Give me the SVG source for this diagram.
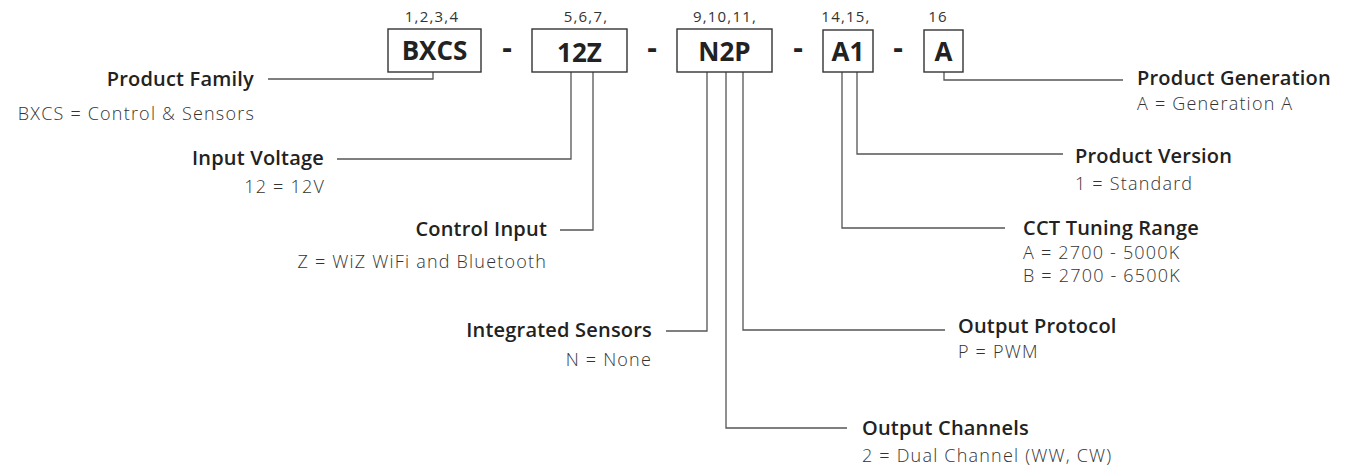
<svg xmlns="http://www.w3.org/2000/svg" width="1347" height="467" viewBox="0 0 1347 467">
<style>
.box{fill:#fff;stroke:#333;stroke-width:1.4}
.code{font-family:"Open Sans","Liberation Sans",sans-serif;font-weight:700;font-size:26px;fill:#222;text-anchor:middle}
.pos{font-family:"Open Sans","Liberation Sans",sans-serif;font-size:15px;letter-spacing:1.2px;fill:#333;text-anchor:middle}
.dash{font-family:"Open Sans","Liberation Sans",sans-serif;font-weight:700;font-size:30px;fill:#222;text-anchor:middle}
.lbl{font-family:"Open Sans","Liberation Sans",sans-serif;font-weight:600;font-size:20px;letter-spacing:0.2px;fill:#222}
.desc{font-family:"Open Sans","Liberation Sans",sans-serif;font-weight:300;font-size:18px;letter-spacing:1.2px;fill:#333}
.e{text-anchor:end}
.ln{fill:none;stroke:#555;stroke-width:1.3}
</style>
<rect width="1347" height="467" fill="#fff"/>
<g id="connectors">
<path class="ln" d="M268,79 H433 V72"/>
<path class="ln" d="M337,159 H571 V72"/>
<path class="ln" d="M560,230 H593 V72"/>
<path class="ln" d="M666,331 H707 V72"/>
<path class="ln" d="M847,428 H726 V72"/>
<path class="ln" d="M945,330 H743 V72"/>
<path class="ln" d="M1005,228 H842 V72"/>
<path class="ln" d="M1063,154 H857 V72"/>
<path class="ln" d="M1123,80 H944 V72"/>
</g>
<g id="seg-bxcs">
<text class="pos" x="432" y="22">1,2,3,4</text>
<rect class="box" x="388" y="29" width="93" height="43"/>
<text class="code" x="434.5" y="60">BXCS</text>
</g>
<text class="dash" x="507" y="58">-</text>
<g id="seg-12z">
<text class="pos" x="586" y="22">5,6,7,</text>
<rect class="box" x="532" y="29" width="95" height="43"/>
<text class="code" x="579.5" y="62">12Z</text>
</g>
<text class="dash" x="652" y="58">-</text>
<g id="seg-n2p">
<text class="pos" x="725" y="22">9,10,11,</text>
<rect class="box" x="677" y="29" width="95" height="43"/>
<text class="code" x="724.5" y="61">N2P</text>
</g>
<text class="dash" x="798" y="58">-</text>
<g id="seg-a1">
<text class="pos" x="846" y="22">14,15,</text>
<rect class="box" x="823" y="30" width="50" height="42"/>
<text class="code" x="848" y="61">A1</text>
</g>
<text class="dash" x="898" y="58">-</text>
<g id="seg-a">
<text class="pos" x="938" y="22">16</text>
<rect class="box" x="924" y="30" width="39" height="42"/>
<text class="code" x="943.5" y="61">A</text>
</g>
<g id="product-family">
<text class="lbl e" x="254" y="86">Product Family</text>
<text class="desc e" x="255" y="120">BXCS = Control &amp; Sensors</text>
</g>
<g id="input-voltage">
<text class="lbl e" x="324" y="165">Input Voltage</text>
<text class="desc e" x="325" y="193">12 = 12V</text>
</g>
<g id="control-input">
<text class="lbl e" x="547" y="236">Control Input</text>
<text class="desc e" x="547" y="268">Z = WiZ WiFi and Bluetooth</text>
</g>
<g id="integrated-sensors">
<text class="lbl e" x="652" y="337">Integrated Sensors</text>
<text class="desc e" x="652" y="366">N = None</text>
</g>
<g id="output-channels">
<text class="lbl" x="862" y="435">Output Channels</text>
<text class="desc" x="862" y="462">2 = Dual Channel (WW, CW)</text>
</g>
<g id="output-protocol">
<text class="lbl" x="958" y="333">Output Protocol</text>
<text class="desc" x="958" y="358">P = PWM</text>
</g>
<g id="cct-tuning-range">
<text class="lbl" x="1023" y="235">CCT Tuning Range</text>
<text class="desc" x="1023" y="259">A = 2700 - 5000K</text>
<text class="desc" x="1023" y="282">B = 2700 - 6500K</text>
</g>
<g id="product-version">
<text class="lbl" x="1075" y="163">Product Version</text>
<text class="desc" x="1075" y="190">1 = Standard</text>
</g>
<g id="product-generation">
<text class="lbl" x="1137" y="85">Product Generation</text>
<text class="desc" x="1137" y="110">A = Generation A</text>
</g>
</svg>
